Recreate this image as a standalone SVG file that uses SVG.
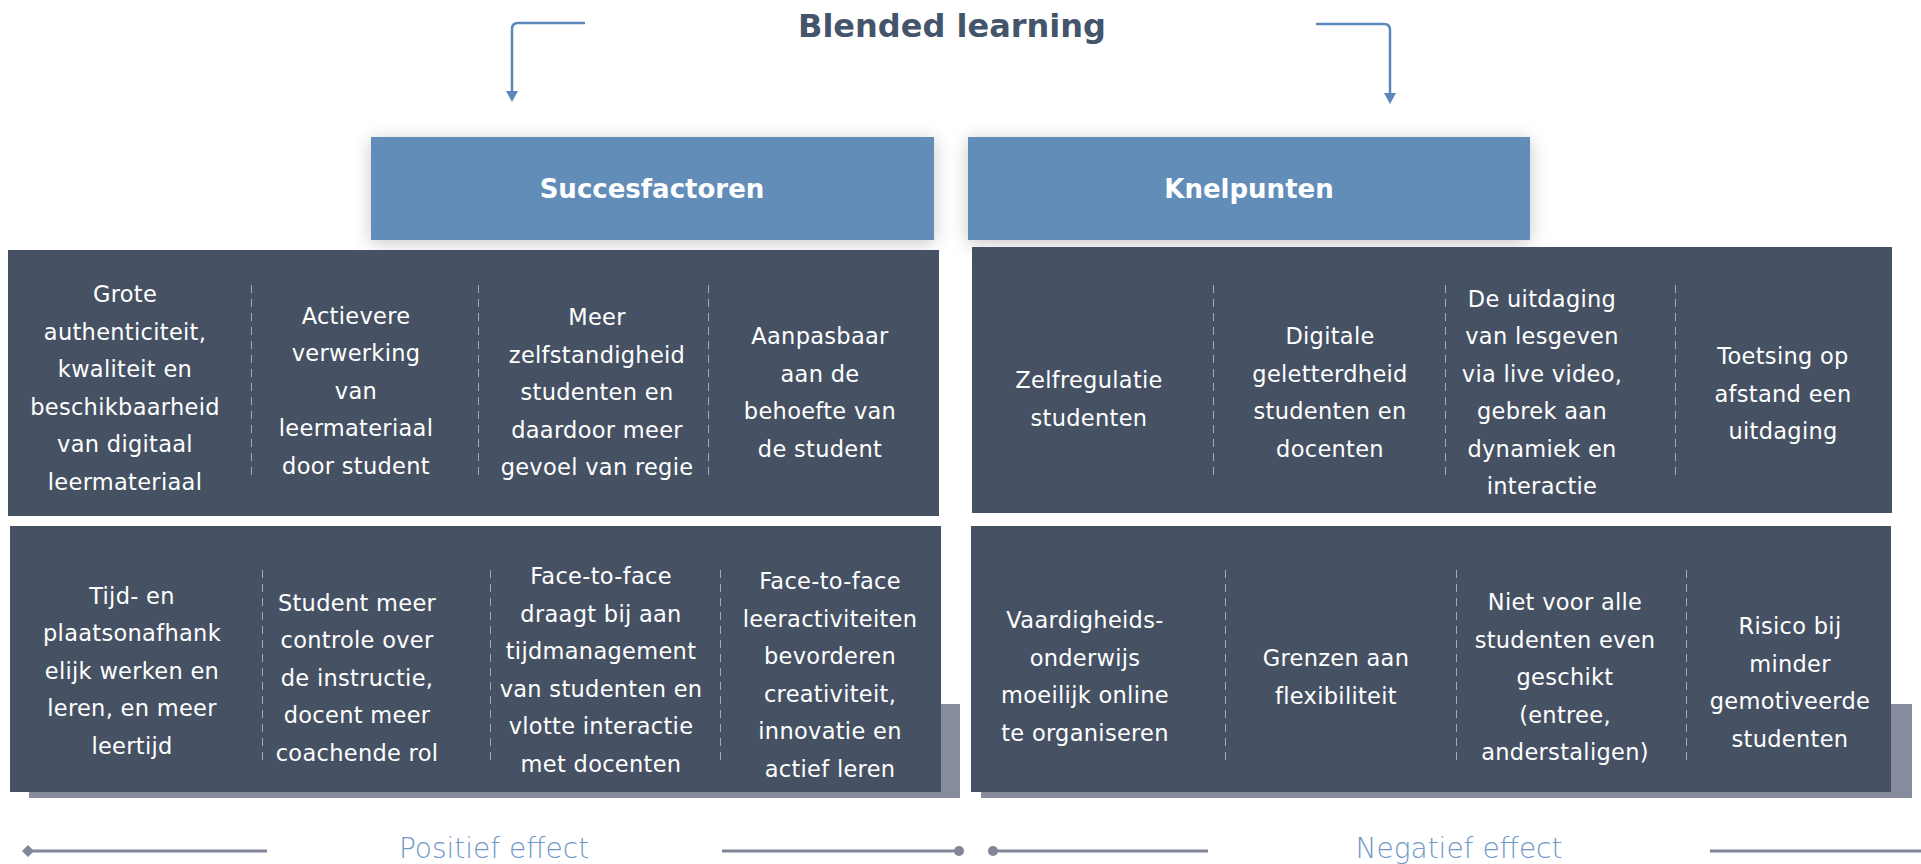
<svg xmlns="http://www.w3.org/2000/svg" width="1921" height="864" viewBox="0 0 1921 864">
<style>
.title{font-family:"DejaVu Sans","Liberation Sans",sans-serif;font-weight:bold;font-size:32px;fill:#44546a;text-anchor:middle}
.hdr{fill:#638db9}
.hdrt{font-family:"DejaVu Sans","Liberation Sans",sans-serif;font-weight:bold;font-size:26px;fill:#ffffff;text-anchor:middle}
.panel{fill:#465264}
.shadow{fill:#868b9e}
.cell{font-family:"DejaVu Sans","Liberation Sans",sans-serif;font-size:22.5px;letter-spacing:0.3px;fill:#ffffff;text-anchor:middle}
.div{stroke:#a3aab6;stroke-width:1;stroke-dasharray:8 6;fill:none}
.conn{stroke:#5b87bb;stroke-width:2.5;fill:none}
.base{stroke:#808697;stroke-width:3;fill:none}
.eff{font-family:"DejaVu Sans","Liberation Sans",sans-serif;font-weight:300;font-size:28px;fill:#6f97c8;text-anchor:middle}
</style>
<defs>
<filter id="sh" x="-10%" y="-30%" width="120%" height="160%">
<feDropShadow dx="0" dy="3" stdDeviation="9" flood-color="#000" flood-opacity="0.22"/>
</filter>
<marker id="ah" viewBox="0 0 10 10" refX="5" refY="8" markerWidth="4" markerHeight="4" orient="auto-start-reverse" markerUnits="strokeWidth">
<path d="M0,0 L10,0 L5,10 z" fill="#5b87bb" transform="rotate(-90 5 5)"/>
</marker>
</defs>

<g id="title"><text class="title" x="952" y="37">Blended learning</text></g>

<g id="connectors">
<path class="conn" d="M585,23 H518 Q512,23 512,29 V92"/>
<path d="M506,91 L518,91 L512,102 z" fill="#5b87bb"/>
<path class="conn" d="M1316,24 H1384 Q1390,24 1390,30 V94"/>
<path d="M1384,93 L1396,93 L1390,104 z" fill="#5b87bb"/>
<line class="base" x1="28" y1="851" x2="267" y2="851"/>
<path d="M22,851 L28,845 L34,851 L28,857 z" fill="#808697"/>
<line class="base" x1="722" y1="851" x2="959" y2="851"/>
<circle cx="959" cy="851" r="5" fill="#808697"/>
<line class="base" x1="993" y1="851" x2="1208" y2="851"/>
<circle cx="993" cy="851" r="5" fill="#808697"/>
<line class="base" x1="1710" y1="851" x2="1921" y2="851"/>
</g>

<g id="succesfactoren">
<rect class="hdr" x="371" y="137" width="563" height="103" filter="url(#sh)"/>
<text class="hdrt" x="652" y="198">Succesfactoren</text>
</g>
<g id="knelpunten">
<rect class="hdr" x="968" y="137" width="562" height="103" filter="url(#sh)"/>
<text class="hdrt" x="1249" y="198">Knelpunten</text>
</g>

<g id="succes-top">
<rect class="panel" x="8" y="250" width="931" height="266"/>
<line class="div" x1="251.5" y1="285" x2="251.5" y2="478"/>
<line class="div" x1="478.5" y1="285" x2="478.5" y2="478"/>
<line class="div" x1="708.5" y1="285" x2="708.5" y2="478"/>
<g id="s1"><text class="cell" y="302"><tspan x="125">Grote</tspan><tspan x="125" dy="37.5">authenticiteit,</tspan><tspan x="125" dy="37.5">kwaliteit en</tspan><tspan x="125" dy="37.5">beschikbaarheid</tspan><tspan x="125" dy="37.5">van digitaal</tspan><tspan x="125" dy="37.5">leermateriaal</tspan></text></g>
<g id="s2"><text class="cell" y="323.5"><tspan x="356">Actievere</tspan><tspan x="356" dy="37.5">verwerking</tspan><tspan x="356" dy="37.5">van</tspan><tspan x="356" dy="37.5">leermateriaal</tspan><tspan x="356" dy="37.5">door student</tspan></text></g>
<g id="s3"><text class="cell" y="325"><tspan x="597">Meer</tspan><tspan x="597" dy="37.5">zelfstandigheid</tspan><tspan x="597" dy="37.5">studenten en</tspan><tspan x="597" dy="37.5">daardoor meer</tspan><tspan x="597" dy="37.5">gevoel van regie</tspan></text></g>
<g id="s4"><text class="cell" y="344"><tspan x="820">Aanpasbaar</tspan><tspan x="820" dy="37.5">aan de</tspan><tspan x="820" dy="37.5">behoefte van</tspan><tspan x="820" dy="37.5">de student</tspan></text></g>
</g>

<g id="knel-top">
<rect class="panel" x="972" y="247" width="920" height="266"/>
<line class="div" x1="1213.5" y1="285" x2="1213.5" y2="477"/>
<line class="div" x1="1445.5" y1="285" x2="1445.5" y2="477"/>
<line class="div" x1="1675.5" y1="285" x2="1675.5" y2="477"/>
<g id="k1"><text class="cell" y="388"><tspan x="1089">Zelfregulatie</tspan><tspan x="1089" dy="37.5">studenten</tspan></text></g>
<g id="k2"><text class="cell" y="344"><tspan x="1330">Digitale</tspan><tspan x="1330" dy="37.5">geletterdheid</tspan><tspan x="1330" dy="37.5">studenten en</tspan><tspan x="1330" dy="37.5">docenten</tspan></text></g>
<g id="k3"><text class="cell" y="306.5"><tspan x="1542">De uitdaging</tspan><tspan x="1542" dy="37.5">van lesgeven</tspan><tspan x="1542" dy="37.5">via live video,</tspan><tspan x="1542" dy="37.5">gebrek aan</tspan><tspan x="1542" dy="37.5">dynamiek en</tspan><tspan x="1542" dy="37.5">interactie</tspan></text></g>
<g id="k4"><text class="cell" y="364"><tspan x="1783">Toetsing op</tspan><tspan x="1783" dy="37.5">afstand een</tspan><tspan x="1783" dy="37.5">uitdaging</tspan></text></g>
</g>

<g id="succes-bottom">
<rect class="shadow" x="29" y="704" width="931" height="94"/>
<rect class="panel" x="10" y="526" width="931" height="266"/>
<line class="div" x1="262.5" y1="570" x2="262.5" y2="762"/>
<line class="div" x1="490.5" y1="570" x2="490.5" y2="762"/>
<line class="div" x1="720.5" y1="570" x2="720.5" y2="762"/>
<g id="s5"><text class="cell" y="603.5"><tspan x="132">Tijd- en</tspan><tspan x="132" dy="37.5">plaatsonafhank</tspan><tspan x="132" dy="37.5">elijk werken en</tspan><tspan x="132" dy="37.5">leren, en meer</tspan><tspan x="132" dy="37.5">leertijd</tspan></text></g>
<g id="s6"><text class="cell" y="610.5"><tspan x="357">Student meer</tspan><tspan x="357" dy="37.5">controle over</tspan><tspan x="357" dy="37.5">de instructie,</tspan><tspan x="357" dy="37.5">docent meer</tspan><tspan x="357" dy="37.5">coachende rol</tspan></text></g>
<g id="s7"><text class="cell" y="584"><tspan x="601">Face-to-face</tspan><tspan x="601" dy="37.5">draagt bij aan</tspan><tspan x="601" dy="37.5">tijdmanagement</tspan><tspan x="601" dy="37.5">van studenten en</tspan><tspan x="601" dy="37.5">vlotte interactie</tspan><tspan x="601" dy="37.5">met docenten</tspan></text></g>
<g id="s8"><text class="cell" y="589"><tspan x="830">Face-to-face</tspan><tspan x="830" dy="37.5">leeractiviteiten</tspan><tspan x="830" dy="37.5">bevorderen</tspan><tspan x="830" dy="37.5">creativiteit,</tspan><tspan x="830" dy="37.5">innovatie en</tspan><tspan x="830" dy="37.5">actief leren</tspan></text></g>
</g>

<g id="knel-bottom">
<rect class="shadow" x="981" y="704" width="931" height="94"/>
<rect class="panel" x="971" y="526" width="920" height="266"/>
<line class="div" x1="1225.5" y1="570" x2="1225.5" y2="762"/>
<line class="div" x1="1456.5" y1="570" x2="1456.5" y2="762"/>
<line class="div" x1="1686.5" y1="570" x2="1686.5" y2="762"/>
<g id="k5"><text class="cell" y="628"><tspan x="1085">Vaardigheids-</tspan><tspan x="1085" dy="37.5">onderwijs</tspan><tspan x="1085" dy="37.5">moeilijk online</tspan><tspan x="1085" dy="37.5">te organiseren</tspan></text></g>
<g id="k6"><text class="cell" y="666"><tspan x="1336">Grenzen aan</tspan><tspan x="1336" dy="37.5">flexibiliteit</tspan></text></g>
<g id="k7"><text class="cell" y="610"><tspan x="1565">Niet voor alle</tspan><tspan x="1565" dy="37.5">studenten even</tspan><tspan x="1565" dy="37.5">geschikt</tspan><tspan x="1565" dy="37.5">(entree,</tspan><tspan x="1565" dy="37.5">anderstaligen)</tspan></text></g>
<g id="k8"><text class="cell" y="634"><tspan x="1790">Risico bij</tspan><tspan x="1790" dy="37.5">minder</tspan><tspan x="1790" dy="37.5">gemotiveerde</tspan><tspan x="1790" dy="37.5">studenten</tspan></text></g>
</g>

<g id="positief"><text class="eff" x="494" y="858">Positief effect</text></g>
<g id="negatief"><text class="eff" x="1459" y="858">Negatief effect</text></g>
</svg>
